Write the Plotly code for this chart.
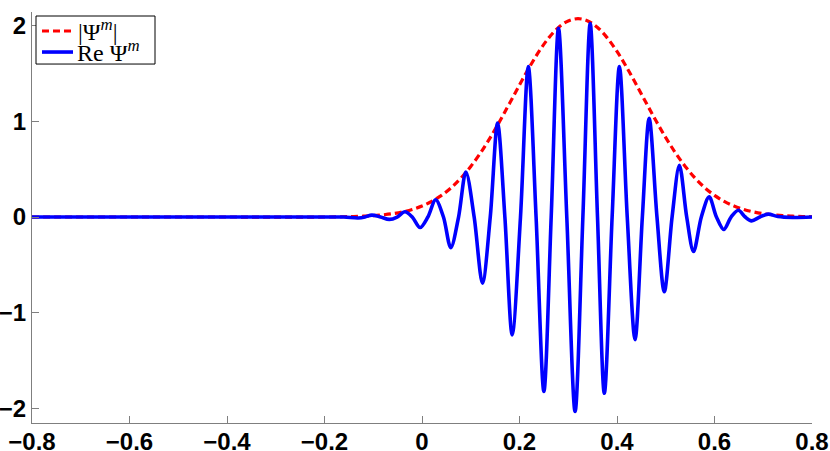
import plotly.graph_objects as go

# |Psi^m| envelope
env_x = [-0.80, -0.60, -0.40, -0.20, -0.16, -0.14, -0.12, -0.10, -0.08, -0.06, -0.04, -0.02,
         0.00, 0.02, 0.04, 0.06, 0.08, 0.10, 0.12, 0.14, 0.16, 0.18, 0.20, 0.22, 0.24,
         0.26, 0.28, 0.30, 0.32, 0.34, 0.36, 0.38, 0.40, 0.42, 0.44, 0.46, 0.48, 0.50,
         0.52, 0.54, 0.56, 0.58, 0.60, 0.62, 0.64, 0.66, 0.68, 0.70, 0.72, 0.74, 0.76,
         0.78, 0.80]
env_y = [0.0, 0.0, 0.0, 0.0, 0.003, 0.005, 0.009, 0.014, 0.023, 0.035, 0.053, 0.079,
         0.115, 0.163, 0.226, 0.306, 0.407, 0.528, 0.669, 0.829, 1.004, 1.190, 1.378, 1.561, 1.728,
         1.870, 1.979, 2.047, 2.070, 2.047, 1.979, 1.870, 1.728, 1.561, 1.378, 1.190, 1.004, 0.829,
         0.669, 0.528, 0.407, 0.306, 0.226, 0.163, 0.115, 0.079, 0.053, 0.035, 0.023, 0.014, 0.009,
         0.005, 0.003]

# Re Psi^m (extrema and zero crossings)
re_x = [-0.80, -0.60, -0.40, -0.20, -0.16, -0.131, -0.117, -0.103, -0.085, -0.067, -0.051,
        -0.035, -0.020, -0.004, 0.012, 0.028, 0.044, 0.059, 0.075, 0.090, 0.107, 0.124,
        0.140, 0.155, 0.170, 0.185, 0.202, 0.218, 0.234, 0.250, 0.265, 0.280, 0.297,
        0.314, 0.330, 0.345, 0.360, 0.374, 0.390, 0.405, 0.421, 0.437, 0.452, 0.466,
        0.482, 0.497, 0.513, 0.528, 0.543, 0.557, 0.573, 0.589, 0.604, 0.619, 0.634,
        0.649, 0.663, 0.676, 0.693, 0.710, 0.730, 0.760, 0.800]
re_y = [0.0, 0.0, 0.0, 0.0, 0.0, -0.01, 0.0, 0.02, 0.0, -0.025, 0.0,
        0.055, 0.0, -0.11, 0.0, 0.18, 0.0, -0.32, 0.0, 0.47, 0.0, -0.69,
        0.0, 0.98, 0.0, -1.23, 0.0, 1.57, 0.0, -1.82, 0.0, 1.97, 0.0,
        -2.03, 0.0, 2.02, 0.0, -1.84, 0.0, 1.57, 0.0, -1.28, 0.0, 1.03,
        0.0, -0.78, 0.0, 0.54, 0.0, -0.36, 0.0, 0.21, 0.0, -0.13, 0.0,
        0.07, 0.0, -0.04, 0.0, 0.03, 0.005, -0.005, 0.0]

x_ticks = [-0.8, -0.6, -0.4, -0.2, 0, 0.2, 0.4, 0.6, 0.8]
x_tick_text = ["\u22120.8", "\u22120.6", "\u22120.4", "\u22120.2", "0", "0.2", "0.4", "0.6", "0.8"]
y_ticks = [-2, -1, 0, 1, 2]
y_tick_text = ["\u22122", "\u22121", "0", "1", "2"]

legend_labels = ["|\u03a8<sup><i>m</i></sup>|", "Re \u03a8<sup><i>m</i></sup>"]
red, blue = "#ff0000", "#0000ff"

fig = go.Figure()
fig.add_trace(go.Scatter(
    x=env_x, y=env_y, mode="lines", name=legend_labels[0],
    line=dict(color=red, width=3.2, dash="7px,4px", shape="spline"),
))
fig.add_trace(go.Scatter(
    x=re_x, y=re_y, mode="lines", name=legend_labels[1],
    line=dict(color=blue, width=3.6, shape="spline", smoothing=0.9),
))

# manual legend box (paper coordinates)
W, H = 780.0, 410.7
def px(xp):
    return (xp - 32) / W
def py(yp):
    return (422.7 - yp) / H

fig.add_shape(type="rect", xref="paper", yref="paper",
              x0=px(36), x1=px(155), y0=py(64), y1=py(16),
              line=dict(color="black", width=1), fillcolor="white", layer="above")
fig.add_shape(type="line", xref="paper", yref="paper",
              x0=px(42), x1=px(73), y0=py(31), y1=py(31),
              line=dict(color=red, width=3.2, dash="7px,4px"), layer="above")
fig.add_shape(type="line", xref="paper", yref="paper",
              x0=px(42), x1=px(73), y0=py(52), y1=py(52),
              line=dict(color=blue, width=3.6), layer="above")
legend_font = dict(family="Liberation Serif, Times New Roman, serif", size=24, color="black")
fig.add_annotation(xref="paper", yref="paper", x=px(76), y=py(30), xanchor="left", yanchor="middle",
                   text=legend_labels[0], showarrow=False, font=legend_font)
fig.add_annotation(xref="paper", yref="paper", x=px(75), y=py(51), xanchor="left", yanchor="middle",
                   text=legend_labels[1], showarrow=False, font=legend_font)

tickfont = dict(family="Liberation Sans, Arial, sans-serif", size=24, color="black", weight="bold")
fig.update_layout(
    width=830, height=451,
    margin=dict(l=32, r=18, t=12, b=28, autoexpand=False),
    paper_bgcolor="white", plot_bgcolor="white",
    showlegend=False,
    xaxis=dict(
        range=[-0.8, 0.8], tickvals=x_ticks, ticktext=x_tick_text,
        ticks="inside", ticklen=7, tickcolor="#7f7f7f", tickwidth=1,
        showline=True, linecolor="#7f7f7f", linewidth=1, ticklabelstandoff=-3,
        showgrid=False, zeroline=False, tickfont=tickfont, automargin=False,
    ),
    yaxis=dict(
        range=[-2.15, 2.14], tickvals=y_ticks, ticktext=y_tick_text,
        ticks="inside", ticklen=7, tickcolor="#7f7f7f", tickwidth=1,
        showline=True, linecolor="#7f7f7f", linewidth=1,
        showgrid=False, zeroline=False, tickfont=tickfont, automargin=False,
    ),
)

fig.write_html("out.html", config={"displayModeBar": False},
               post_script="document.body.style.margin='0px';document.body.style.overflow='hidden';")
